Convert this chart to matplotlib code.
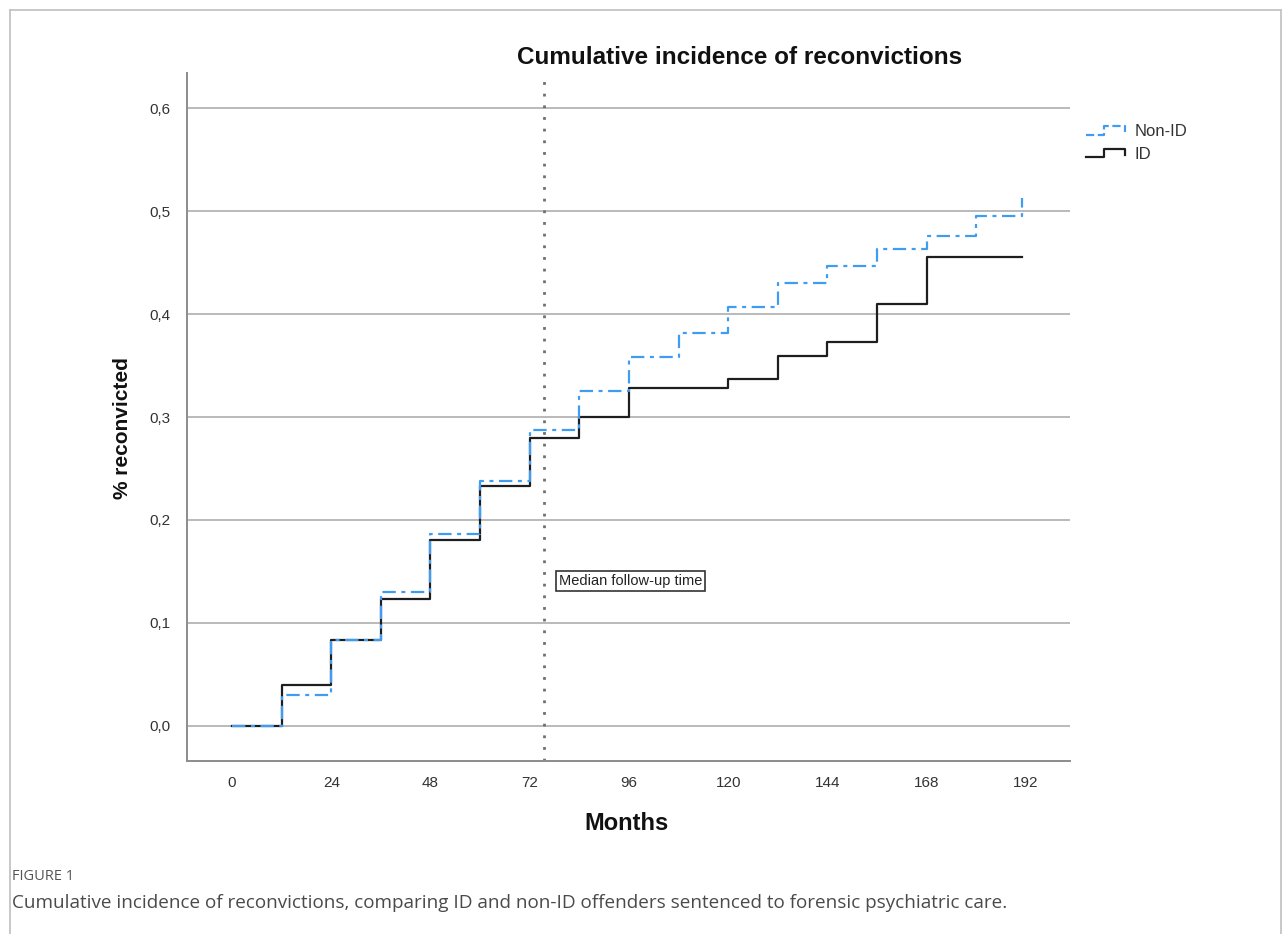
import matplotlib
matplotlib.use("Agg")
import matplotlib.pyplot as plt
from matplotlib.lines import Line2D
from matplotlib.legend_handler import HandlerBase
from matplotlib.ticker import FuncFormatter

# step times (months) and cumulative incidence after each step
id_months = [0, 12, 24, 36, 48, 60, 72, 84, 96, 120, 132, 144, 156, 168, 191]
id_values = [0.0, 0.040, 0.083, 0.123, 0.181, 0.233, 0.280, 0.300, 0.328,
             0.337, 0.359, 0.373, 0.410, 0.455, 0.455]

nonid_months = [0, 12, 24, 36, 48, 60, 72, 84, 96, 108, 120, 132, 144, 156,
                168, 180, 191]
nonid_values = [0.0, 0.030, 0.083, 0.130, 0.186, 0.238, 0.287, 0.325, 0.358,
                0.382, 0.407, 0.430, 0.447, 0.463, 0.476, 0.495, 0.513]

median_followup = 75.5
x_ticks = [0, 24, 48, 72, 96, 120, 144, 168, 192]
y_ticks = [0.0, 0.1, 0.2, 0.3, 0.4, 0.5, 0.6]

BLUE = "#3f9cf0"
DARK = "#1e1e1e"
NON_ID_DASH = (0, (6, 2.5, 1.8, 2.5))


class StepHandler(HandlerBase):
    """Draws a small step curve as the legend key."""

    def create_artists(self, legend, orig_handle, xdescent, ydescent,
                       width, height, fontsize, trans):
        x0, y0 = -xdescent, -ydescent
        xs = [x0, x0 + 0.45 * width, x0 + 0.45 * width, x0 + width, x0 + width]
        ys = [y0 + 0.15 * height, y0 + 0.15 * height, y0 + 0.85 * height,
              y0 + 0.85 * height, y0 + 0.35 * height]
        line = Line2D(xs, ys, color=orig_handle.get_color(),
                      linestyle=orig_handle.get_linestyle(),
                      linewidth=orig_handle.get_linewidth(), transform=trans)
        return [line]


plt.rcParams['font.family'] = ['Liberation Sans', 'DejaVu Sans']

fig = plt.figure(figsize=(12.84, 9.34), dpi=100)

# outer page frame
frame_kw = dict(transform=fig.transFigure, color="#c4c4c4", linewidth=1.3)
fig.add_artist(Line2D([10 / 1284, 10 / 1284], [0, 1 - 10 / 934], **frame_kw))
fig.add_artist(Line2D([10 / 1284, 1281 / 1284], [1 - 10 / 934, 1 - 10 / 934], **frame_kw))
fig.add_artist(Line2D([1281 / 1284, 1281 / 1284], [0, 1 - 10 / 934], **frame_kw))

ax = fig.add_axes([187 / 1284, 1 - 761 / 934, (1070 - 187) / 1284, (761 - 73) / 934])
ax.set_facecolor("none")

for v in y_ticks:
    ax.axhline(v, color="#b4b4b4", linewidth=1.3, zorder=1)

ax.step(id_months, id_values, where="post", color=DARK, linewidth=1.6,
        zorder=3, label="ID")
ax.step(nonid_months, nonid_values, where="post", color=BLUE, linewidth=1.6,
        linestyle=NON_ID_DASH, zorder=4, label="Non-ID")

ax.axvline(median_followup, color="#707070", linewidth=2.0,
           linestyle=(0, (1, 3.2)), zorder=2)
ax.text(median_followup + 3.6, 0.141, "Median follow-up time", fontsize=10.5,
        ha="left", va="center", color="#222222", zorder=5,
        bbox=dict(boxstyle="square,pad=0.2", facecolor="white",
                  edgecolor="#333333", linewidth=1.2))

ax.set_xlim(-10.9, 202.7)
ax.set_ylim(-0.034, 0.634)
ax.set_xticks(x_ticks)
ax.set_yticks(y_ticks)
ax.yaxis.set_major_formatter(FuncFormatter(lambda v, p: f"{v:.1f}".replace(".", ",")))
ax.tick_params(length=0, labelsize=11, colors="#333333")
ax.tick_params(axis="x", pad=11)
ax.tick_params(axis="y", pad=12)

for side in ("top", "right"):
    ax.spines[side].set_visible(False)
for side in ("left", "bottom"):
    ax.spines[side].set_color("#8c8c8c")
    ax.spines[side].set_linewidth(1.4)

fig.text(740 / 1284, 1 - 58 / 934, "Cumulative incidence of reconvictions",
         ha="center", va="center", fontsize=17.5, fontweight="bold",
         color="#111111")
fig.text(122 / 1284, 1 - 428 / 934, "% reconvicted", rotation=90,
         ha="center", va="center", fontsize=15, fontweight="bold",
         color="#111111")
fig.text(627 / 1284, 1 - 823 / 934, "Months", ha="center", va="center",
         fontsize=17, fontweight="bold", color="#111111")

handles = [Line2D([], [], color=BLUE, linestyle=NON_ID_DASH, linewidth=1.6),
           Line2D([], [], color=DARK, linewidth=1.6)]
fig.legend(handles, ["Non-ID", "ID"], loc="upper left",
           bbox_to_anchor=(1078 / 1284, 1 - 116 / 934), frameon=False,
           fontsize=12, handlelength=2.3, handletextpad=0.6, borderpad=0,
           labelspacing=0.45, handler_map={Line2D: StepHandler()},
           labelcolor="#333333")

# caption beneath the chart
fig.text(12 / 1284, 1 - 877 / 934, "FIGURE 1", ha="left", va="center",
         fontsize=10.5, color="#555555", family=["Open Sans", "DejaVu Sans"])
fig.text(12 / 1284, 1 - 903 / 934,
         "Cumulative incidence of reconvictions, comparing ID and non-ID "
         "offenders sentenced to forensic psychiatric care.",
         ha="left", va="center", fontsize=13.6, color="#4a4a4a",
         family=["Open Sans", "DejaVu Sans"])

fig.savefig("out.png", dpi=100)
